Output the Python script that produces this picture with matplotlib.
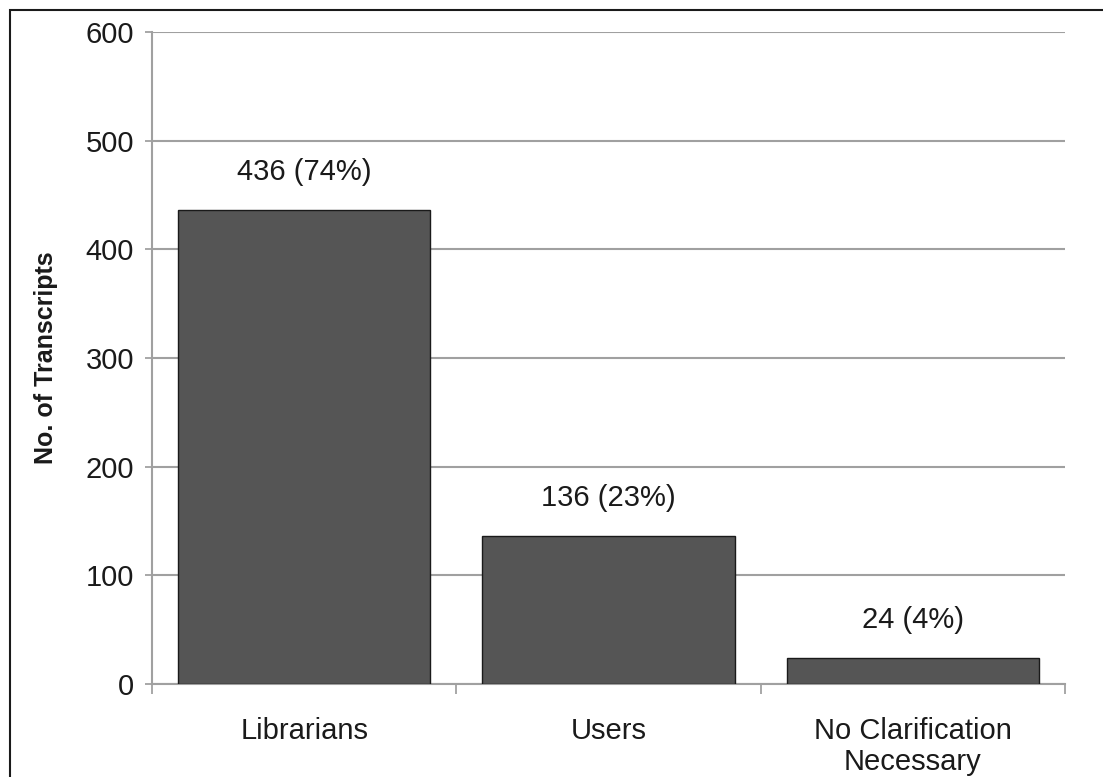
import matplotlib
matplotlib.use("Agg")
import matplotlib.pyplot as plt
from matplotlib.patches import Rectangle

categories = ["Librarians", "Users", "No Clarification\nNecessary"]
counts = [436, 136, 24]
percents = [74, 23, 4]
y_ticks = [0, 100, 200, 300, 400, 500, 600]

plt.rcParams["font.family"] = ["Liberation Sans", "DejaVu Sans"]

W, H = 1103, 777
fig = plt.figure(figsize=(W / 100, H / 100), dpi=100)
ax = fig.add_axes([152 / W, 1 - 684 / H, (1065 - 152) / W, (684 - 32) / H])

x = list(range(len(categories)))
ax.bar(x, counts, width=0.83, color="#555555", edgecolor="#1a1a1a", linewidth=1.0, zorder=3)

for xi, c, p in zip(x, counts, percents):
    ax.text(xi, c + 22, f"{c} ({p}%)", ha="center", va="bottom", fontsize=21, color="#1a1a1a")

ax.set_xlim(-0.5, len(categories) - 0.5)
ax.set_ylim(0, 600)
ax.set_yticks(y_ticks)
ax.tick_params(axis="y", labelsize=21, length=5, color="#999999", width=1.2, pad=8, labelcolor="#1a1a1a")
ax.set_xticks(x)
ax.set_xticklabels(categories, fontsize=21, color="#1a1a1a", linespacing=1.1)
ax.tick_params(axis="x", length=0, pad=24)
# category boundary ticks
ax.set_xticks([i - 0.5 for i in range(len(categories) + 1)], minor=True)
ax.tick_params(axis="x", which="minor", length=7, color="#999999", width=1.2, direction="out")

ax.grid(axis="y", color="#a0a0a0", linewidth=1.5, zorder=0)
for s in ["top", "right"]:
    ax.spines[s].set_visible(False)
ax.spines["left"].set_color("#a0a0a0")
ax.spines["left"].set_linewidth(1.5)
ax.spines["bottom"].set_color("#a0a0a0")
ax.spines["bottom"].set_linewidth(1.5)

ax.set_ylabel("No. of Transcripts", fontsize=18, fontweight="bold", color="#1a1a1a", labelpad=20)

# frame around the figure
fig.patches.append(Rectangle((10 / W, -0.1), 1.2, 1 - 10 / H + 0.1, transform=fig.transFigure,
                             fill=False, edgecolor="#1a1a1a", linewidth=1.5))

fig.savefig("out.png", dpi=100)
